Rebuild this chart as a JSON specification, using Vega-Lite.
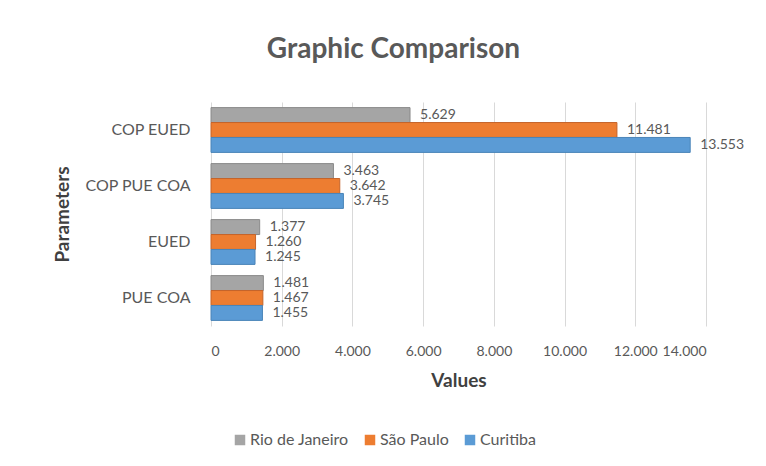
{
  "$schema": "https://vega.github.io/schema/vega-lite/v6.json",
  "width": 495,
  "height": 224,
  "autosize": {"type": "none"},
  "padding": {"left": 211, "top": 102, "right": 60, "bottom": 140},
  "background": "white",
  "config": {
    "font": "Lato",
    "view": {"stroke": null},
    "axis": {"labelColor": "#595959", "titleColor": "#404040", "labelFont": "Lato", "titleFont": "Lato"}
  },
  "title": {
    "text": "Graphic Comparison",
    "fontSize": 28,
    "font": "Lato",
    "fontWeight": "bold",
    "color": "#595959",
    "anchor": "middle",
    "dx": -65,
    "offset": 38
  },
  "data": {
    "values": [
      {"param": "COP EUED", "city": "Rio de Janeiro", "value": 5.629},
      {"param": "COP EUED", "city": "São Paulo", "value": 11.481},
      {"param": "COP EUED", "city": "Curitiba", "value": 13.553},
      {"param": "COP PUE COA", "city": "Rio de Janeiro", "value": 3.463},
      {"param": "COP PUE COA", "city": "São Paulo", "value": 3.642},
      {"param": "COP PUE COA", "city": "Curitiba", "value": 3.745},
      {"param": "EUED", "city": "Rio de Janeiro", "value": 1.377},
      {"param": "EUED", "city": "São Paulo", "value": 1.26},
      {"param": "EUED", "city": "Curitiba", "value": 1.245},
      {"param": "PUE COA", "city": "Rio de Janeiro", "value": 1.481},
      {"param": "PUE COA", "city": "São Paulo", "value": 1.467},
      {"param": "PUE COA", "city": "Curitiba", "value": 1.455}
    ]
  },
  "encoding": {
    "y": {
      "field": "param",
      "type": "nominal",
      "sort": ["COP EUED", "COP PUE COA", "EUED", "PUE COA"],
      "scale": {"paddingInner": 0.2, "paddingOuter": 0.1},
      "axis": {
        "title": "Parameters",
        "titleFontSize": 19,
        "titleFontWeight": "bold",
        "titleAngle": -90,
        "titleAlign": "center",
        "titleBaseline": "middle",
        "titleX": -149,
        "titleY": 112,
        "labelFontSize": 16,
        "labelPadding": 21,
        "ticks": false,
        "domain": false
      }
    },
    "yOffset": {
      "field": "city",
      "type": "nominal",
      "sort": ["Rio de Janeiro", "São Paulo", "Curitiba"],
      "scale": {"paddingInner": 0, "paddingOuter": 0}
    },
    "x": {
      "field": "value",
      "type": "quantitative",
      "scale": {"domain": [0, 14], "nice": false},
      "axis": {
        "title": "Values",
        "titleFontSize": 19,
        "titleFontWeight": "bold",
        "titlePadding": 13,
        "values": [0, 2, 4, 6, 8, 10, 12, 14],
        "labelExpr": "datum.value == 0 ? '0' : format(datum.value, ',.3f')",
        "labelFontSize": 14,
        "labelPadding": 18,
        "ticks": false,
        "domain": false,
        "grid": true,
        "gridColor": "#d9d9d9"
      }
    }
  },
  "layer": [
    {
      "mark": {"type": "bar", "strokeWidth": 1},
      "encoding": {
        "color": {
          "field": "city",
          "type": "nominal",
          "scale": {
            "domain": ["Rio de Janeiro", "São Paulo", "Curitiba"],
            "range": ["#a5a5a5", "#ed7d31", "#5b9bd5"]
          },
          "legend": {
            "orient": "none",
            "legendX": 21,
            "legendY": 330,
            "direction": "horizontal",
            "title": null,
            "symbolType": "square",
            "symbolSize": 110,
            "symbolStrokeWidth": 0,
            "labelFontSize": 16,
            "labelColor": "#595959",
            "columnPadding": 13,
            "labelOffset": 2,
            "labelFont": "Lato"
          }
        },
        "stroke": {
          "field": "city",
          "type": "nominal",
          "scale": {
            "domain": ["Rio de Janeiro", "São Paulo", "Curitiba"],
            "range": ["#8a8a8a", "#c5642a", "#4a84b8"]
          },
          "legend": null
        }
      }
    },
    {
      "mark": {"type": "text", "align": "left", "baseline": "middle", "dx": 10, "fontSize": 14, "color": "#595959", "font": "Lato"},
      "encoding": {
        "text": {"field": "value", "type": "quantitative", "format": ",.3f"}
      }
    }
  ]
}
